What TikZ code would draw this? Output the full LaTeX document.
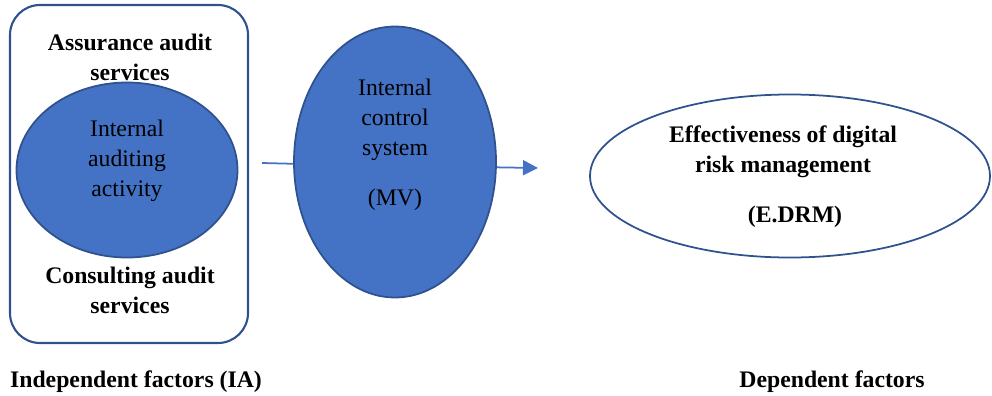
\documentclass[tikz,border=0pt]{standalone}
\usepackage{fontspec}
\setmainfont{Liberation Serif}
\usetikzlibrary{shapes.geometric,arrows.meta}

\definecolor{fillblue}{HTML}{4472C4}
\definecolor{edgeblue}{HTML}{2F528F}

\tikzset{
  label text/.style={align=center, font=\fontsize{13.5}{17}\selectfont},
  bold text/.style={align=center, font=\fontsize{13.5}{17}\selectfont\bfseries},
  blue oval/.style={ellipse, draw=edgeblue, fill=fillblue, line width=1pt, inner sep=0pt},
}

\begin{document}
\begin{tikzpicture}
\useasboundingbox (0,0) rectangle (19.84,7.9);

% Independent box
\node[draw=edgeblue, line width=1.2pt, rounded corners=0.6cm, minimum width=4.76cm, minimum height=6.76cm] (ia) at (2.58,4.42) {};
\node[blue oval, minimum width=4.42cm, minimum height=3.5cm] (iaa) at (2.54,4.5) {};

\node[bold text] (assure) at (2.6,6.76) {Assurance audit\\services};
\node[bold text] (consult) at (2.6,2.1) {Consulting audit\\services};
\node[label text] (iaatext) at (2.54,4.68) {Internal\\auditing\\activity};

% Mediator
\node[blue oval, minimum width=4.04cm, minimum height=5.42cm] (mv) at (7.9,4.66) {};
\node[label text] (mvtext) at (7.9,5.5) {Internal\\control\\system};
\node[label text] (mvtag) at (7.9,3.9) {(MV)};

% Dependent
\node[ellipse, draw=edgeblue, line width=1pt, minimum width=8.0cm, minimum height=3.26cm] (edrm) at (15.8,4.38) {};
\node[bold text] (edrmtext) at (15.66,4.86) {Effectiveness of digital\\risk management};
\node[bold text] (edrmtag) at (15.9,3.56) {(E.DRM)};

% Connectors
\coordinate (start) at (5.24,4.64);
\coordinate (stop) at (10.76,4.54);
\draw[fillblue, line width=1pt] (start) -- (mv.181);
\draw[fillblue, line width=1pt, -{Triangle[length=0.3cm,width=0.3cm]}] (mv.-3) -- (stop);

% Factor labels
\node[bold text] (indep) at (2.72,0.26) {Independent factors (IA)};
\node[bold text] (dep) at (16.64,0.26) {Dependent factors};

\end{tikzpicture}
\end{document}
